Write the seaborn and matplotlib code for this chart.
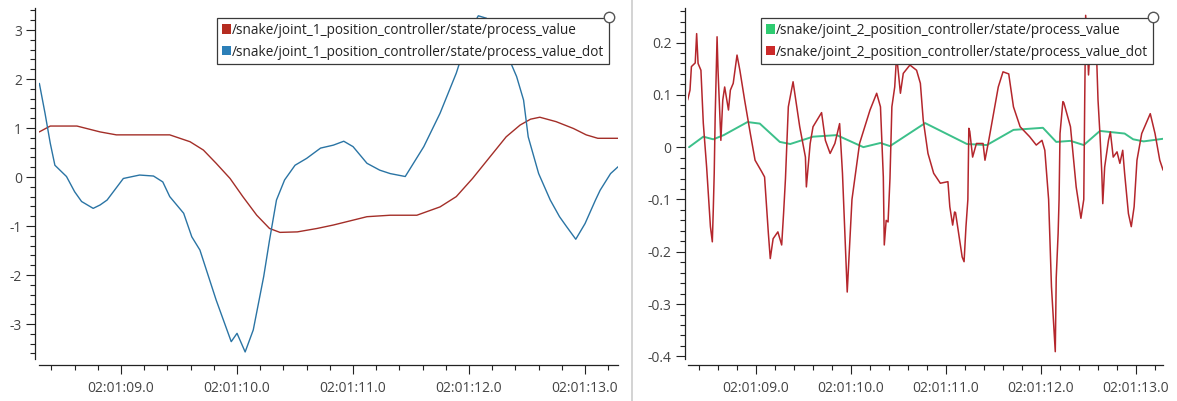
import numpy as np
import pandas as pd
import matplotlib
matplotlib.use("Agg")
import matplotlib.pyplot as plt
import seaborn as sns
from matplotlib.patches import Patch
from matplotlib.lines import Line2D
from matplotlib.ticker import MultipleLocator, FuncFormatter

# time in seconds after 02:01:00
j1_pos_t = [8.295, 8.39, 8.62, 8.82, 8.96, 9.31, 9.42, 9.595, 9.71, 9.82, 9.94, 10.05, 10.17, 10.28,
            10.37, 10.52, 10.69, 10.83, 11.12, 11.32, 11.55, 11.75, 11.89, 12.03, 12.18, 12.32,
            12.44, 12.53, 12.61, 12.75, 12.90, 13.01, 13.11, 13.285]
j1_pos_v = [0.92, 1.04, 1.04, 0.92, 0.86, 0.86, 0.86, 0.72, 0.55, 0.28, -0.03, -0.40, -0.78, -1.05,
            -1.13, -1.12, -1.05, -0.98, -0.81, -0.78, -0.78, -0.61, -0.40, -0.03, 0.41, 0.82,
            1.06, 1.18, 1.22, 1.13, 0.99, 0.86, 0.79, 0.79]

j1_vel_t = [8.296, 8.345, 8.39, 8.43, 8.53, 8.60, 8.66, 8.76, 8.82, 8.88, 9.02, 9.16, 9.28, 9.36,
            9.42, 9.54, 9.61, 9.68, 9.82, 9.95, 10.00, 10.07, 10.14, 10.23, 10.28, 10.34, 10.41,
            10.50, 10.60, 10.72, 10.83, 10.92, 11.00, 11.12, 11.23, 11.32, 11.45, 11.61, 11.75,
            11.89, 12.01, 12.08, 12.15, 12.18, 12.22, 12.30, 12.41, 12.47, 12.51, 12.60, 12.70,
            12.78, 12.84, 12.92, 13.00, 13.09, 13.13, 13.22, 13.285]
j1_vel_v = [1.91, 1.30, 0.69, 0.24, 0.01, -0.30, -0.50, -0.64, -0.57, -0.47, -0.03, 0.04, 0.02, -0.10,
            -0.40, -0.74, -1.22, -1.49, -2.51, -3.36, -3.19, -3.57, -3.12, -2.03, -1.29, -0.47, -0.06,
            0.24, 0.38, 0.59, 0.65, 0.73, 0.62, 0.28, 0.14, 0.07, 0.01, 0.62, 1.30,
            2.12, 3.00, 3.29, 3.24, 3.07, 3.17, 2.66, 2.05, 1.57, 0.82, 0.07, -0.47,
            -0.81, -1.01, -1.27, -0.95, -0.47, -0.27, 0.07, 0.21]

j2_pos_t = [8.295, 8.445, 8.55, 8.66, 8.91, 9.04, 9.25, 9.36, 9.60, 9.85, 10.13, 10.31, 10.41,
            10.78, 11.22, 11.43, 11.71, 12.02, 12.16, 12.31, 12.45, 12.62, 12.88, 12.97, 13.08, 13.285]
j2_pos_v = [0.0, 0.020, 0.015, 0.023, 0.048, 0.045, 0.010, 0.006, 0.020, 0.023, 0.0, 0.008, 0.002,
            0.046, 0.006, 0.004, 0.033, 0.037, 0.010, 0.012, 0.004, 0.031, 0.026, 0.015, 0.011, 0.016]

j2_vel_t = [8.28, 8.305, 8.32, 8.36, 8.375, 8.39, 8.42, 8.445, 8.48, 8.52, 8.54, 8.55, 8.56, 8.57,
            8.59, 8.60, 8.63, 8.65, 8.67, 8.71, 8.73, 8.76, 8.80, 8.83, 8.88, 8.94, 8.99, 9.06,
            9.09, 9.13, 9.15, 9.18, 9.23, 9.27, 9.29, 9.31, 9.34, 9.39, 9.46, 9.52, 9.53, 9.57,
            9.60, 9.69, 9.73, 9.78, 9.83, 9.88, 9.91, 9.96, 10.01, 10.09, 10.20, 10.27, 10.31,
            10.34, 10.35, 10.37, 10.39, 10.41, 10.43, 10.46, 10.48, 10.52, 10.55, 10.62, 10.69,
            10.73, 10.76, 10.81, 10.87, 10.94, 11.02, 11.04, 11.07, 11.09, 11.10, 11.17, 11.19,
            11.21, 11.23, 11.24, 11.25, 11.28, 11.32, 11.39, 11.41, 11.45, 11.50, 11.55, 11.60,
            11.66, 11.71, 11.78, 11.88, 11.95, 12.01, 12.04, 12.08, 12.11, 12.15, 12.16, 12.18,
            12.19, 12.20, 12.23, 12.24, 12.31, 12.34, 12.37, 12.42, 12.45, 12.46, 12.47, 12.49,
            12.50, 12.52, 12.55, 12.58, 12.60, 12.62, 12.64, 12.65, 12.67, 12.71, 12.73, 12.76,
            12.80, 12.83, 12.86, 12.88, 12.92, 12.95, 12.98, 13.01, 13.06, 13.15, 13.20, 13.25, 13.285]
j2_vel_v = [0.090, 0.109, 0.154, 0.161, 0.217, 0.160, 0.147, 0.046, -0.038, -0.152, -0.181, -0.120, -0.050, 0.058,
            0.211, 0.147, 0.013, 0.090, 0.115, 0.071, 0.109, 0.122, 0.176, 0.147, 0.090, 0.026, -0.025, -0.047,
            -0.057, -0.165, -0.213, -0.175, -0.162, -0.187, -0.127, -0.060, 0.077, 0.125, 0.039, -0.019, -0.076, 0.007,
            0.039, 0.066, 0.013, -0.012, 0.007, 0.045, -0.050, -0.277, -0.100, 0.007, 0.071, 0.103, 0.077,
            -0.057, -0.187, -0.140, -0.143, -0.060, 0.077, 0.115, 0.176, 0.103, 0.141, 0.157, 0.147,
            0.122, 0.052, -0.012, -0.050, -0.069, -0.066, -0.114, -0.149, -0.124, -0.125, -0.210, -0.219,
            -0.152, -0.100, 0.036, 0.030, -0.019, 0.007, 0.007, -0.025, 0.013, 0.064, 0.115, 0.144,
            0.140, 0.077, 0.039, 0.020, 0.004, 0.013, -0.006, -0.100, -0.267, -0.391, -0.250, -0.165,
            -0.100, 0.026, 0.087, 0.085, 0.039, -0.019, -0.076, -0.136, -0.100, 0.090, 0.252, 0.185,
            0.138, 0.205, 0.185, 0.201, 0.090, 0.026, -0.050, -0.108, -0.038, 0.013, 0.029, -0.019,
            -0.009, -0.031, -0.006, -0.050, -0.127, -0.152, -0.114, -0.025, 0.026, 0.064, 0.026, -0.025, -0.044]

labels_j1 = ["/snake/joint_1_position_controller/state/process_value",
             "/snake/joint_1_position_controller/state/process_value_dot"]
labels_j2 = ["/snake/joint_2_position_controller/state/process_value",
             "/snake/joint_2_position_controller/state/process_value_dot"]

RED1, BLUE1 = "#a32e28", "#2a74a4"
GREEN2, RED2 = "#3cc08a", "#b4262c"
LEG_RED1, LEG_BLUE1 = "#b52c20", "#2c7fb8"
LEG_GREEN2, LEG_RED2 = "#2ecc71", "#cc2a2a"

sns.set_style("white")
plt.rcParams['font.family'] = ['Open Sans', 'DejaVu Sans']
plt.rcParams['axes.unicode_minus'] = False

W, H = 1177, 401
fig = plt.figure(figsize=(W / 100, H / 100), dpi=100)


def px_axes(x0, x1, ytop, ybot):
    return fig.add_axes([x0 / W, (H - ybot) / H, (x1 - x0) / W, (ybot - ytop) / H])


def ytick_fmt(v, pos):
    v = round(v, 4)
    if abs(v) < 1e-9:
        return "0"
    return "%g" % v


def xtick_fmt(s, pos):
    return "02:01:%04.1f" % s


def style_axes(ax, left_out, ymaj, ymin):
    for s in ["top", "right"]:
        ax.spines[s].set_visible(False)
    ax.spines["left"].set_position(("outward", left_out))
    ax.spines["bottom"].set_position(("outward", 4.3))
    for s in ["left", "bottom"]:
        ax.spines[s].set_color("#222222")
        ax.spines[s].set_linewidth(0.9)
    ax.xaxis.set_major_locator(MultipleLocator(1.0))
    ax.xaxis.set_minor_locator(MultipleLocator(0.2))
    ax.yaxis.set_major_locator(MultipleLocator(ymaj))
    ax.yaxis.set_minor_locator(MultipleLocator(ymin))
    ax.xaxis.set_major_formatter(FuncFormatter(xtick_fmt))
    ax.yaxis.set_major_formatter(FuncFormatter(ytick_fmt))
    ax.tick_params(which="major", direction="out", length=6.5, width=0.8, color="#222222",
                   labelsize=10, labelcolor="#444444", pad=3)
    ax.tick_params(axis="x", which="major", pad=5)
    ax.tick_params(which="minor", direction="out", length=3.6, width=0.8, color="#222222")
    ax.tick_params(axis="both", which="both", bottom=True, left=True)
    ax.set_xlabel("")
    ax.set_ylabel("")
    ax.grid(False)


def add_legend(ax, colors, labels, xr, yt):
    handles = [Patch(facecolor=c, edgecolor="none") for c in colors]
    leg = ax.legend(handles, labels, loc="upper right", bbox_to_anchor=(xr / W, 1 - yt / H),
                    bbox_transform=fig.transFigure, frameon=True, fancybox=False,
                    borderaxespad=0, borderpad=0.35, handlelength=0.65, handleheight=0.65,
                    handletextpad=0.1, labelspacing=0.5, fontsize=9.8)
    fr = leg.get_frame()
    fr.set_edgecolor("#3a3a3a")
    fr.set_linewidth(0.9)
    fr.set_facecolor("white")
    fr.set_alpha(1)
    for t in leg.get_texts():
        t.set_color("#222222")
    fig.add_artist(Line2D([xr / W], [1 - 17 / H], marker="o", markersize=7.5,
                          markerfacecolor="white", markeredgecolor="#555555",
                          markeredgewidth=1.0, transform=fig.transFigure))


# left panel: joint 1
ax1 = px_axes(39, 618, 8, 359)
sns.lineplot(x=j1_pos_t, y=j1_pos_v, ax=ax1, color=RED1, linewidth=1.0, estimator=None, sort=False)
sns.lineplot(x=j1_vel_t, y=j1_vel_v, ax=ax1, color=BLUE1, linewidth=1.0, estimator=None, sort=False)
ax1.set_xlim(8.293, 13.284)
ax1.set_ylim(-3.714, 3.449)
style_axes(ax1, 2.9, 1.0, 0.2)
add_legend(ax1, [LEG_RED1, LEG_BLUE1], labels_j1, 609, 18)

# right panel: joint 2
ax2 = px_axes(688, 1163, 8, 359)
sns.lineplot(x=j2_pos_t, y=j2_pos_v, ax=ax2, color=GREEN2, linewidth=1.4, estimator=None, sort=False)
sns.lineplot(x=j2_vel_t, y=j2_vel_v, ax=ax2, color=RED2, linewidth=1.1, estimator=None, sort=False)
ax2.set_xlim(8.284, 13.284)
ax2.set_ylim(-0.405, 0.266)
style_axes(ax2, 2.2, 0.1, 0.02)
add_legend(ax2, [LEG_GREEN2, LEG_RED2], labels_j2, 1153, 18)

# separator between the two plot widgets
fig.add_artist(Line2D([632 / W, 632 / W], [0, 1], color="#cccccc", linewidth=1.2,
                      transform=fig.transFigure))

fig.savefig("out.png", dpi=100, facecolor="white")
